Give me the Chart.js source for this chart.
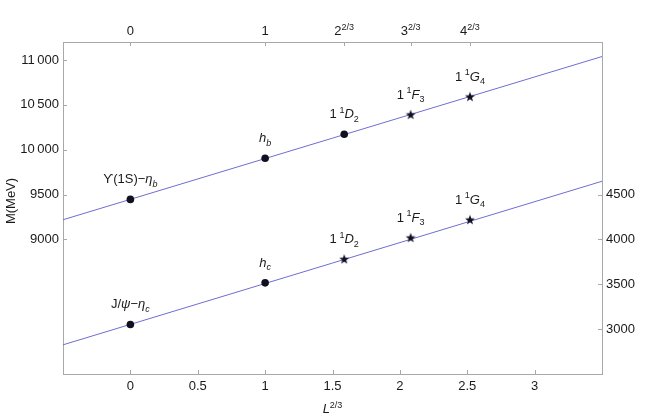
<!DOCTYPE html>
<html>
<head>
<meta charset="utf-8">
<script src="https://cdn.jsdelivr.net/npm/chart.js@4.4.1/dist/chart.umd.min.js"></script>
<style>
  html, body { margin: 0; padding: 0; background: #fff; }
  #box { width: 654px; height: 418px; }
</style>
</head>
<body>
<div id="box"><canvas id="grafico"></canvas></div>
<script>
// values
const levelX = [0, 1, 1.587, 2.080, 2.520];
const bottomMass = [9446, 9904, 10172, 10390, 10590];
const charmMass = [3052, 3516, 3780, 4019, 4219];
const bottomMarks = ['circle', 'circle', 'circle', 'star', 'star'];
const charmMarks = ['circle', 'circle', 'star', 'star', 'star'];
const bottomNames = ['ϒ(1S)−*η_b*', '*h_b*', '1\u2009^1*D*_2', '1\u2009^1*F*_3', '1\u2009^1*G*_4'];
const charmNames = ['J/*ψ*−*η_c*', '*h_c*', '1\u2009^1*D*_2', '1\u2009^1*F*_3', '1\u2009^1*G*_4'];

const fitX = [-0.5, 3.5];
const bottomFit = [9219, 11038];
const charmFit = [2825, 4648];

const xTicks = [0, 0.5, 1, 1.5, 2, 2.5, 3];
const topTicks = [0, 1, 1.587, 2.080, 2.520];
const topLabels = ['0', '1', '2^{2/3}', '3^{2/3}', '4^{2/3}'];
const leftTicks = [9000, 9500, 10000, 10500, 11000];
const rightTicks = [3000, 3500, 4000, 4500];

const FONT = '"Liberation Sans", Arial, sans-serif';
const frameColor = '#a8a8a8';
const lineColor = 'rgb(110, 110, 210)';
const textColor = '#1a1a1a';

// filled five point star used as marker
const star = document.createElement('canvas');
star.width = 12; star.height = 12;
(function () {
    const c = star.getContext('2d');
    c.beginPath();
    for (let k = 0; k < 10; k++) {
        const r = k % 2 ? 2.1 : 5.2;
        const a = -Math.PI / 2 + k * Math.PI / 5;
        c.lineTo(6 + r * Math.cos(a), 6.3 + r * Math.sin(a));
    }
    c.closePath();
    c.fillStyle = '#101020';
    c.fill();
})();
const markStyle = m => m === 'star' ? star : 'circle';

// tiny markup: * toggles italic, ^x / _x (or ^{..}) for super / subscripts
function parseRich(s) {
    const segs = [];
    let it = false, i = 0;
    while (i < s.length) {
        const c = s[i];
        if (c === '*') { it = !it; i++; continue; }
        if (c === '^' || c === '_') {
            let t;
            if (s[i + 1] === '{') { const j = s.indexOf('}', i); t = s.slice(i + 2, j); i = j + 1; }
            else { t = s[i + 1]; i += 2; }
            segs.push({ t, it, sc: c });
            continue;
        }
        segs.push({ t: c, it, sc: null });
        i++;
    }
    return segs;
}

function segFont(sg, size) {
    const sz = sg.sc ? Math.round(size * 0.7) : size;
    return (sg.it ? 'italic ' : '') + sz + 'px ' + FONT;
}

function drawRich(ctx, s, x, y, size, align) {
    const segs = parseRich(s);
    let w = 0;
    segs.forEach(sg => { ctx.font = segFont(sg, size); sg.w = ctx.measureText(sg.t).width; w += sg.w; });
    let cx = align === 'center' ? x - w / 2 : x;
    ctx.textAlign = 'left';
    ctx.textBaseline = 'alphabetic';
    ctx.fillStyle = textColor;
    segs.forEach(sg => {
        ctx.font = segFont(sg, size);
        let dy = 0;
        if (sg.sc === '^') dy = -size * 0.42;
        if (sg.sc === '_') dy = size * 0.28;
        ctx.fillText(sg.t, cx, y + dy);
        cx += sg.w;
    });
}

const extras = {
    id: 'extras',
    afterDraw(chart) {
        const ctx = chart.ctx;
        const a = chart.chartArea;
        const sx = chart.scales.x, sy = chart.scales.y, sy2 = chart.scales.y2;
        ctx.save();
        // inner tick marks
        ctx.strokeStyle = frameColor;
        ctx.lineWidth = 1;
        ctx.beginPath();
        xTicks.forEach(v => { const p = Math.round(sx.getPixelForValue(v)) + 0.5; ctx.moveTo(p, a.bottom); ctx.lineTo(p, a.bottom - 4); });
        topTicks.forEach(v => { const p = Math.round(sx.getPixelForValue(v)) + 0.5; ctx.moveTo(p, a.top); ctx.lineTo(p, a.top + 4); });
        leftTicks.forEach(v => { const p = Math.round(sy.getPixelForValue(v)) + 0.5; ctx.moveTo(a.left, p); ctx.lineTo(a.left + 4, p); });
        rightTicks.forEach(v => { const p = Math.round(sy2.getPixelForValue(v)) + 0.5; ctx.moveTo(a.right, p); ctx.lineTo(a.right - 4, p); });
        ctx.stroke();

        // top axis labels
        topTicks.forEach((v, i) => drawRich(ctx, topLabels[i], sx.getPixelForValue(v), 35, 13, 'center'));

        // level names
        levelX.forEach((v, i) => {
            const px = sx.getPixelForValue(v);
            drawRich(ctx, bottomNames[i], px, sy.getPixelForValue(bottomMass[i]) - 16, 13, 'center');
            drawRich(ctx, charmNames[i], px, sy2.getPixelForValue(charmMass[i]) - 16, 13, 'center');
        });

        // axis titles
        drawRich(ctx, '*L*^{2/3}', (a.left + a.right) / 2, 413, 13, 'center');
        ctx.translate(15, 201);
        ctx.rotate(-Math.PI / 2);
        drawRich(ctx, 'M(MeV)', 0, 0, 13, 'center');
        ctx.restore();
    }
};

function pts(ys) { return levelX.map((v, i) => ({ x: v, y: ys[i] })); }
function fit(ys) { return fitX.map((v, i) => ({ x: v, y: ys[i] })); }

const tickFont = { family: FONT, size: 13 };
const fmt = v => v >= 10000 ? String(v).slice(0, 2) + '\u2009' + String(v).slice(2) : String(v);

new Chart(document.getElementById('grafico'), {
    type: 'scatter',
    data: {
        datasets: [
            { data: pts(bottomMass), yAxisID: 'y', pointStyle: bottomMarks.map(markStyle), pointRadius: 3.8, backgroundColor: '#101020', borderWidth: 0, order: 0 },
            { data: pts(charmMass), yAxisID: 'y2', pointStyle: charmMarks.map(markStyle), pointRadius: 3.8, backgroundColor: '#101020', borderWidth: 0, order: 0 },
            { data: fit(bottomFit), yAxisID: 'y', showLine: true, pointRadius: 0, borderColor: lineColor, borderWidth: 1, order: 1 },
            { data: fit(charmFit), yAxisID: 'y2', showLine: true, pointRadius: 0, borderColor: lineColor, borderWidth: 1, order: 1 }
        ]
    },
    options: {
        responsive: true,
        maintainAspectRatio: false,
        animation: false,
        layout: { padding: 0 },
        plugins: { legend: { display: false }, tooltip: { enabled: false } },
        scales: {
            x: {
                type: 'linear', position: 'bottom', min: -0.5, max: 3.5,
                afterBuildTicks: s => { s.ticks = xTicks.map(v => ({ value: v })); },
                afterFit: s => { s.height = 44; },
                grid: { drawOnChartArea: false, drawTicks: false },
                border: { color: frameColor },
                ticks: { font: tickFont, color: textColor, padding: 5, maxRotation: 0, autoSkip: false, callback: v => String(v) }
            },
            x2: {
                type: 'linear', position: 'top', min: -0.5, max: 3.5,
                afterFit: s => { s.height = 42; },
                grid: { drawOnChartArea: false, drawTicks: false },
                border: { color: frameColor },
                ticks: { display: false }
            },
            y: {
                type: 'linear', position: 'left', min: 7500, max: 11200,
                afterBuildTicks: s => { s.ticks = leftTicks.map(v => ({ value: v })); },
                afterFit: s => { s.width = 63; },
                grid: { drawOnChartArea: false, drawTicks: false },
                border: { color: frameColor },
                ticks: { font: tickFont, color: textColor, padding: 4, callback: v => fmt(v) }
            },
            y2: {
                type: 'linear', position: 'right', min: 2500, max: 6200,
                afterBuildTicks: s => { s.ticks = rightTicks.map(v => ({ value: v })); },
                afterFit: s => { s.width = 52; },
                grid: { drawOnChartArea: false, drawTicks: false },
                border: { color: frameColor },
                ticks: { font: tickFont, color: textColor, padding: 4, callback: v => String(v) }
            }
        }
    },
    plugins: [extras]
});
</script>
</body>
</html>
